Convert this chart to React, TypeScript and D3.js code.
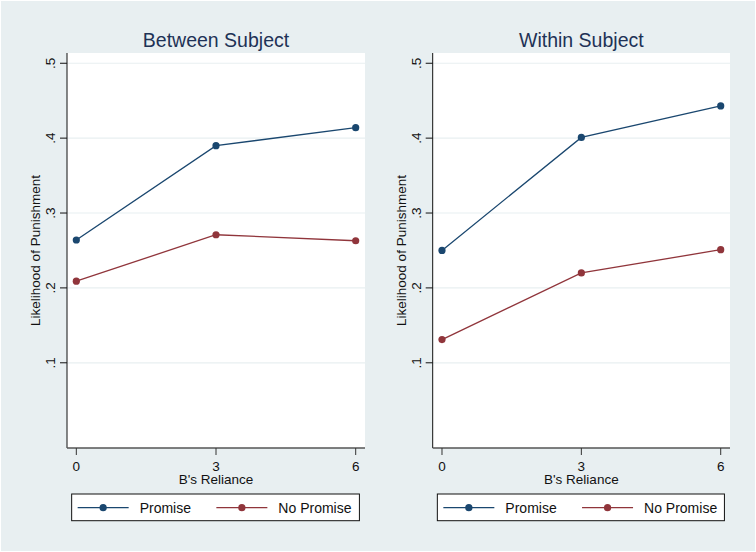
import * as d3 from "d3";

const reliance = [0, 3, 6];
const yTicks = [0.1, 0.2, 0.3, 0.4, 0.5];
const yTickLabels = [".1", ".2", ".3", ".4", ".5"];

const panelTitles = ["Between Subject", "Within Subject"];

// Promise / No Promise means
const betweenPromise = [0.264, 0.39, 0.414];
const betweenNoPromise = [0.209, 0.271, 0.263];
const withinPromise = [0.25, 0.401, 0.443];
const withinNoPromise = [0.131, 0.22, 0.251];

const seriesNames = ["Promise", "No Promise"];
const seriesColors = ["#1a476f", "#90353b"];

const W = 756;
const H = 552;
const BG = "#e8eff1";
const FONT = "'Liberation Sans', Arial, sans-serif";

const panels = [
  { title: panelTitles[0], left: 67, right: 365, series: [betweenPromise, betweenNoPromise] },
  { title: panelTitles[1], left: 432.7, right: 730, series: [withinPromise, withinNoPromise] },
];

const PLOT_TOP = 53;
const PLOT_BOTTOM = 448;

const Panel = ({ p }: { p: (typeof panels)[number] }) => {
  const x = d3.scaleLinear().domain([-0.2, 6.2]).range([p.left, p.right]);
  const y = d3.scaleLinear().domain([-0.0138, 0.5137]).range([PLOT_BOTTOM, PLOT_TOP]);
  const line = d3
    .line<number>()
    .x((_, i) => x(reliance[i]))
    .y((d) => y(d));
  const cx = (p.left + p.right) / 2;
  const legL = x(-0.1);
  const legR = x(6.08);

  return (
    <g fontFamily={FONT}>
      <text x={cx} y={47.3} textAnchor="middle" fontSize={19.5} fill="#1e3256">
        {p.title}
      </text>
      <rect x={p.left} y={PLOT_TOP} width={p.right - p.left} height={PLOT_BOTTOM - PLOT_TOP} fill="white" />
      {yTicks.map((t) => (
        <line key={t} x1={p.left} x2={p.right} y1={y(t)} y2={y(t)} stroke={BG} strokeWidth={1.2} />
      ))}
      {/* y axis */}
      <line x1={p.left} x2={p.left} y1={PLOT_TOP} y2={PLOT_BOTTOM} stroke="#111" strokeWidth={1} />
      {yTicks.map((t, i) => (
        <g key={t}>
          <line x1={p.left - 7} x2={p.left} y1={y(t)} y2={y(t)} stroke="#111" />
          <text
            transform={`translate(${p.left - 12},${y(t)}) rotate(-90)`}
            textAnchor="middle"
            fontSize={13.5}
            fill="#111"
          >
            {yTickLabels[i]}
          </text>
        </g>
      ))}
      <text
        transform={`translate(${p.left - 27},${(PLOT_TOP + PLOT_BOTTOM) / 2}) rotate(-90)`}
        textAnchor="middle"
        fontSize={13.5}
        fill="#111"
      >
        Likelihood of Punishment
      </text>
      {/* x axis */}
      <line x1={p.left} x2={p.right} y1={PLOT_BOTTOM} y2={PLOT_BOTTOM} stroke="#555" strokeWidth={1.6} />
      {reliance.map((r) => (
        <g key={r}>
          <line x1={x(r)} x2={x(r)} y1={PLOT_BOTTOM} y2={PLOT_BOTTOM + 7} stroke="#333" />
          <text x={x(r)} y={470.5} textAnchor="middle" fontSize={13.5} fill="#111">
            {r}
          </text>
        </g>
      ))}
      <text x={cx} y={484} textAnchor="middle" fontSize={13.5} fill="#111">
        B's Reliance
      </text>
      {/* series */}
      {p.series.map((s, si) => (
        <g key={si}>
          <path d={line(s) ?? ""} fill="none" stroke={seriesColors[si]} strokeWidth={1.3} />
          {s.map((v, i) => (
            <circle key={i} cx={x(reliance[i])} cy={y(v)} r={3.6} fill={seriesColors[si]} />
          ))}
        </g>
      ))}
      {/* legend */}
      <rect x={legL} y={494} width={legR - legL} height={26.7} fill="white" stroke="#111" strokeWidth={1} />
      {seriesNames.map((name, si) => {
        const lx = legL + 6 + si * 138.7;
        return (
          <g key={name}>
            <line x1={lx} x2={lx + 51} y1={507.7} y2={507.7} stroke={seriesColors[si]} strokeWidth={1.3} />
            <circle cx={lx + 25.5} cy={507.7} r={3.6} fill={seriesColors[si]} />
            <text x={lx + 62} y={512.8} fontSize={14} fill="#111">
              {name}
            </text>
          </g>
        );
      })}
    </g>
  );
};

export default function App() {
  return (
    <svg width={W} height={H} style={{ position: "absolute", left: 0, top: 0 }}>
      <rect x={0} y={0} width={W} height={H} fill="white" />
      <rect x={1} y={1} width={W - 2} height={H - 2} fill={BG} />
      {panels.map((p) => (
        <Panel key={p.title} p={p} />
      ))}
    </svg>
  );
}
